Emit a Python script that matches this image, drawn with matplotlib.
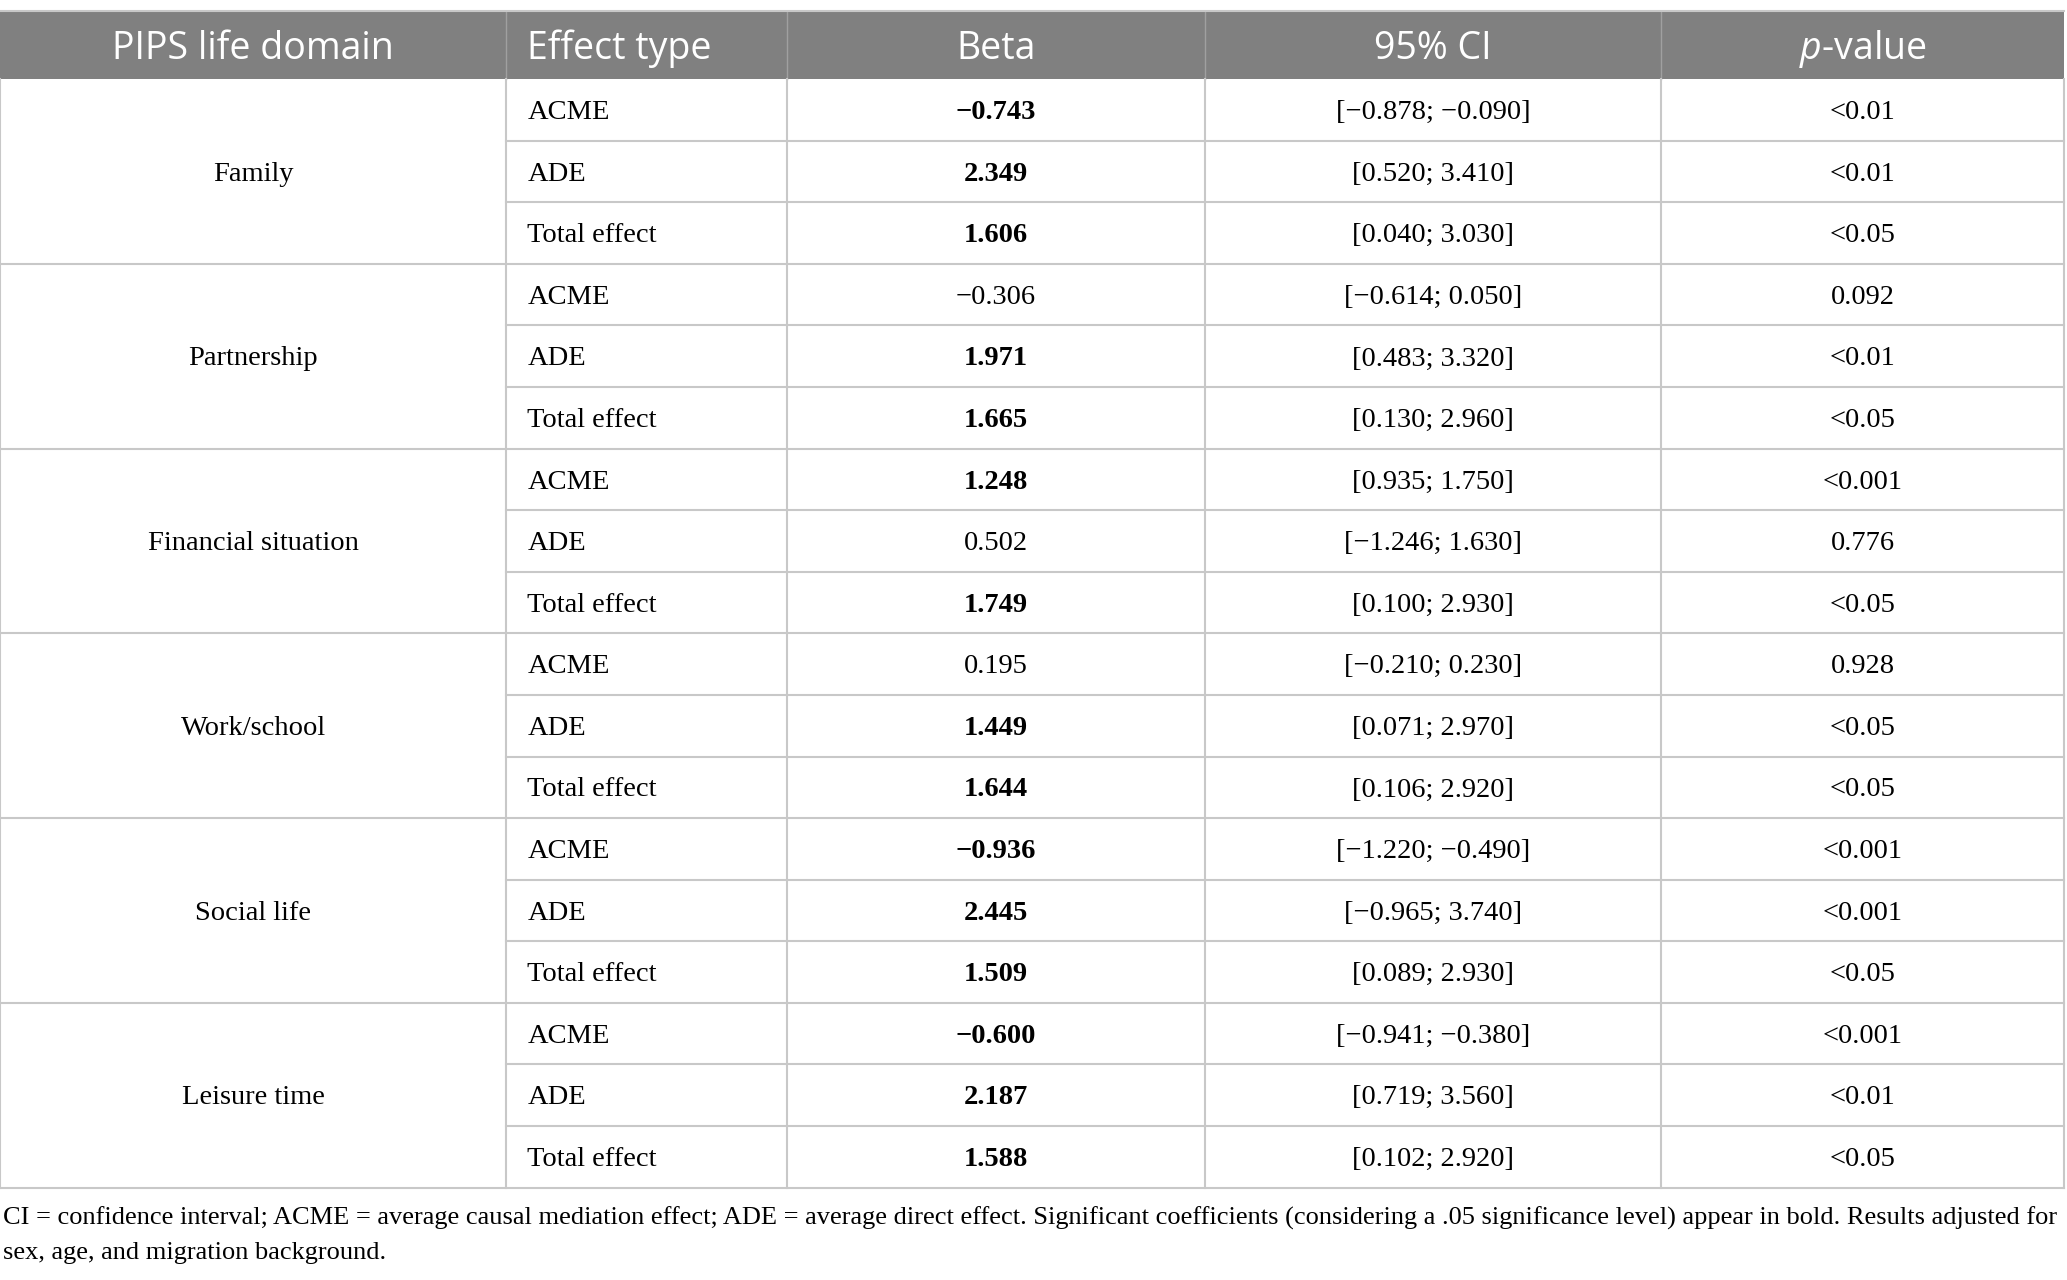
import matplotlib.pyplot as plt

# table content
domains = ["Family", "Partnership", "Financial situation", "Work/school",
           "Social life", "Leisure time"]
effects = ["ACME", "ADE", "Total effect"]
betas = ["\u22120.743", "2.349", "1.606",
         "\u22120.306", "1.971", "1.665",
         "1.248", "0.502", "1.749",
         "0.195", "1.449", "1.644",
         "\u22120.936", "2.445", "1.509",
         "\u22120.600", "2.187", "1.588"]
significant = [True, True, True,
               False, True, True,
               True, False, True,
               False, True, True,
               True, True, True,
               True, True, True]
cis = ["[\u22120.878; \u22120.090]", "[0.520; 3.410]", "[0.040; 3.030]",
       "[\u22120.614; 0.050]", "[0.483; 3.320]", "[0.130; 2.960]",
       "[0.935; 1.750]", "[\u22121.246; 1.630]", "[0.100; 2.930]",
       "[\u22120.210; 0.230]", "[0.071; 2.970]", "[0.106; 2.920]",
       "[\u22121.220; \u22120.490]", "[\u22120.965; 3.740]", "[0.089; 2.930]",
       "[\u22120.941; \u22120.380]", "[0.719; 3.560]", "[0.102; 2.920]"]
pvals = ["<0.01", "<0.01", "<0.05",
         "0.092", "<0.01", "<0.05",
         "<0.001", "0.776", "<0.05",
         "0.928", "<0.05", "<0.05",
         "<0.001", "<0.001", "<0.05",
         "<0.001", "<0.01", "<0.05"]
headers = ["PIPS life domain", "Effect type", "Beta", "95% CI",
           r"$\mathit{p}$-value"]
footnote = ("CI = confidence interval; ACME = average causal mediation effect; "
            "ADE = average direct effect. Significant coefficients (considering "
            "a .05 significance level) appear in bold. Results adjusted for\n"
            "sex, age, and migration background.")

plt.rcParams['mathtext.fontset'] = 'custom'
plt.rcParams['mathtext.rm'] = 'Open Sans'
plt.rcParams['mathtext.it'] = 'Open Sans:italic'

fig = plt.figure(figsize=(20.67, 12.8), dpi=100)
ax = fig.add_axes([0, 0, 1, 1])
ax.set_xlim(0, 1568)
ax.set_ylim(970, 0)
ax.axis('off')

col_x = [0, 384, 597, 914, 1260, 1566]
top, head_bot, bottom = 8, 60, 900
n_rows = len(betas)
rh = (bottom - head_bot) / n_rows
line_c = '#c8c8c8'
serif = 'Liberation Serif'
fs = 20.5

# header band
ax.fill_between([col_x[0], col_x[-1]], top, head_bot, color='#808080', lw=0)
for x in col_x[1:-1]:
    ax.plot([x, x], [top, head_bot], color='#a0a0a0', lw=1)
hx = [(col_x[0] + col_x[1]) / 2, col_x[1] + 16,
      (col_x[2] + col_x[3]) / 2, (col_x[3] + col_x[4]) / 2,
      (col_x[4] + col_x[5]) / 2]
has = ['center', 'left', 'center', 'center', 'center']
for h, x, ha in zip(headers, hx, has):
    ax.text(x, (top + head_bot) / 2 + 3, h, ha=ha, va='center', color='white',
            family='Open Sans', fontsize=27)

# grid lines
ax.plot([col_x[0], col_x[-1]], [top, top], color=line_c, lw=1.5)
for i in range(1, n_rows + 1):
    y = head_bot + i * rh
    x0 = col_x[0] if i % 3 == 0 else col_x[1]
    ax.plot([x0, col_x[-1]], [y, y], color=line_c, lw=1.5)
for x in col_x:
    ax.plot([x, x], [head_bot, bottom], color=line_c, lw=1.5)

# body
for g, d in enumerate(domains):
    yc = head_bot + (g * 3 + 1.5) * rh + 2
    ax.text(hx[0], yc, d, ha='center', va='center', family=serif, fontsize=fs)
for i in range(n_rows):
    yc = head_bot + (i + 0.5) * rh + 2
    ax.text(hx[1], yc, effects[i % 3], ha='left', va='center',
            family=serif, fontsize=fs)
    ax.text(hx[2], yc, betas[i], ha='center', va='center', family=serif,
            fontsize=fs, weight='bold' if significant[i] else 'normal')
    ax.text(hx[3], yc, cis[i], ha='center', va='center', family=serif, fontsize=fs)
    ax.text(hx[4], yc, pvals[i], ha='center', va='center', family=serif, fontsize=fs)

ax.text(2, 914, footnote, ha='left', va='top', family=serif, fontsize=19,
        linespacing=1.75)

fig.savefig('out.png', dpi=100, facecolor='white')
